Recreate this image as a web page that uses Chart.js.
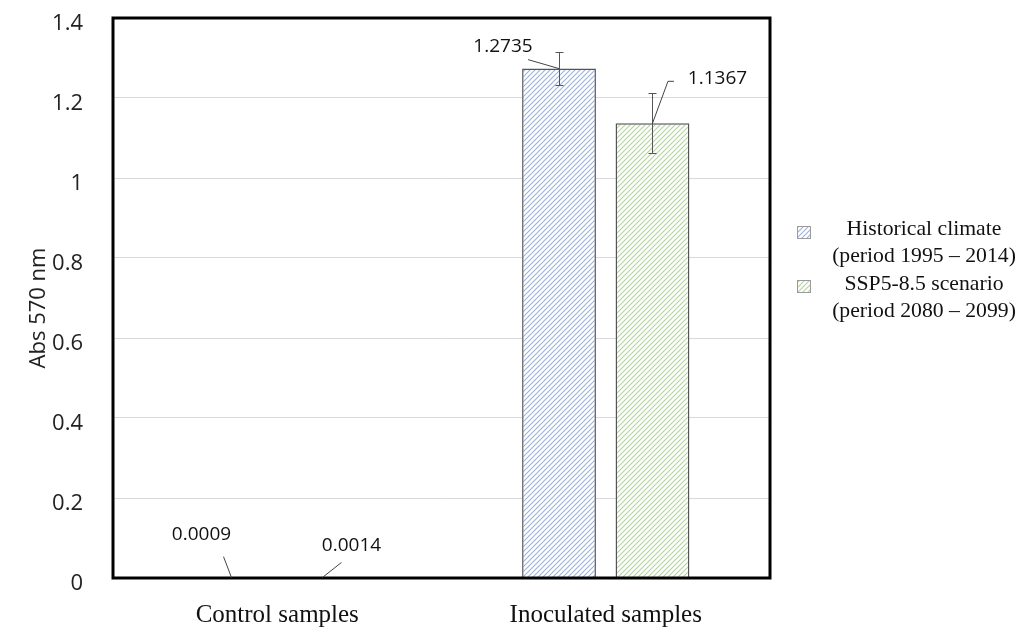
<!DOCTYPE html>
<html>
<head>
<meta charset="utf-8">
<script src="https://cdn.jsdelivr.net/npm/chart.js@4.4.1/dist/chart.umd.min.js"></script>
<style>
  html, body { margin: 0; padding: 0; background: #ffffff; }
  #wrap { width: 1022px; height: 628px; position: relative; }
</style>
</head>
<body>
<div id="wrap"><canvas id="c" width="1022" height="628"></canvas></div>
<script>
// ---- data ----
const categories = ['Control samples', 'Inoculated samples'];
const seriesNames = [['Historical climate', '(period 1995 – 2014)'], ['SSP5-8.5 scenario', '(period 2080 – 2099)']];
const historicalValues = [0.0009, 1.2735];
const ssp585Values = [0.0014, 1.1367];
const historicalErrors = [0, 0.041];
const ssp585Errors = [0, 0.075];
const historicalLabels = ['0.0009', '1.2735'];
const ssp585Labels = ['0.0014', '1.1367'];
const yTicks = [0, 0.2, 0.4, 0.6, 0.8, 1, 1.2, 1.4];
const yTitle = 'Abs 570 nm';

// ---- styles / layout (pixels) ----
const hatchColors = ['#9cb2dc', '#b3d49c'];
// label placement relative to each bar's top-centre: [dataset][index]
const labelPlacement = [
  [ {dx: -29, dy: -43, line: [[-7, -21], [1, 0]]},
    {dx: -56, dy: -22, line: [[-31, -9], [0, 0]]} ],
  [ {dx: 27.5, dy: -32, line: [[17.5, -15], [-1.5, 0]]},
    {dx: 65, dy: -45, line: [[21.5, -42], [15.5, -42], [0, 0]]} ]
];

function makeHatch(color) {
  const s = 5;
  const c = document.createElement('canvas');
  c.width = s; c.height = s;
  const g = c.getContext('2d');
  g.fillStyle = '#ffffff';
  g.fillRect(0, 0, s, s);
  g.strokeStyle = color;
  g.lineWidth = 1.1;
  g.beginPath();
  g.moveTo(0, s); g.lineTo(s, 0);
  g.moveTo(-s / 2, s / 2); g.lineTo(s / 2, -s / 2);
  g.moveTo(s / 2, s * 1.5); g.lineTo(s * 1.5, s / 2);
  g.stroke();
  return g.createPattern(c, 'repeat');
}
const ctx0 = document.getElementById('c').getContext('2d');
const patterns = hatchColors.map(makeHatch);

const errorsBySeries = [historicalErrors, ssp585Errors];
const labelsBySeries = [historicalLabels, ssp585Labels];

const decorPlugin = {
  id: 'decor',
  afterDatasetsDraw(chart) {
    const ctx = chart.ctx;
    const y = chart.scales.y;
    // error bars
    ctx.save();
    ctx.strokeStyle = '#555555';
    ctx.lineWidth = 1;
    chart.data.datasets.forEach((ds, di) => {
      const meta = chart.getDatasetMeta(di);
      meta.data.forEach((bar, i) => {
        const e = errorsBySeries[di][i];
        if (!e) return;
        const v = ds.data[i];
        const yt = y.getPixelForValue(v + e);
        const yb = y.getPixelForValue(v - e);
        const x = Math.round(bar.x) + 0.5;
        ctx.beginPath();
        ctx.moveTo(x, yt); ctx.lineTo(x, yb);
        ctx.moveTo(x - 4, Math.round(yt) + 0.5); ctx.lineTo(x + 4, Math.round(yt) + 0.5);
        ctx.moveTo(x - 4, Math.round(yb) + 0.5); ctx.lineTo(x + 4, Math.round(yb) + 0.5);
        ctx.stroke();
      });
    });
    ctx.restore();
  },
  afterDraw(chart) {
    const ctx = chart.ctx;
    const ca = chart.chartArea;
    // frame
    ctx.save();
    ctx.strokeStyle = '#000000';
    ctx.lineWidth = 3;
    ctx.strokeRect(ca.left, ca.top, ca.right - ca.left, ca.bottom - ca.top);
    ctx.restore();

    // data labels with leader lines
    ctx.save();
    ctx.font = '19px "Open Sans"';
    ctx.fillStyle = '#111111';
    ctx.textAlign = 'center';
    ctx.textBaseline = 'middle';
    ctx.strokeStyle = '#444444';
    ctx.lineWidth = 1;
    chart.data.datasets.forEach((ds, di) => {
      const meta = chart.getDatasetMeta(di);
      meta.data.forEach((bar, i) => {
        const p = labelPlacement[di][i];
        const bx = bar.x, by = bar.y;
        ctx.fillText(labelsBySeries[di][i], bx + p.dx, by + p.dy);
        ctx.beginPath();
        p.line.forEach((pt, k) => {
          if (k === 0) ctx.moveTo(bx + pt[0], by + pt[1]);
          else ctx.lineTo(bx + pt[0], by + pt[1]);
        });
        ctx.stroke();
      });
    });
    ctx.restore();

    // y-axis title
    ctx.save();
    ctx.translate(39, 308);
    ctx.rotate(-Math.PI / 2);
    ctx.font = '22px "Open Sans"';
    ctx.fillStyle = '#222222';
    ctx.textAlign = 'center';
    ctx.textBaseline = 'middle';
    ctx.fillText(yTitle, 0, 0);
    ctx.restore();

    // legend
    ctx.save();
    const patchX = 797, patchW = 14, patchH = 13;
    const patchY = [226, 280];
    const baselines = [[235, 262], [290, 317]];
    ctx.font = '21.7px "Liberation Serif"';
    ctx.textAlign = 'center';
    ctx.textBaseline = 'alphabetic';
    chart.data.datasets.forEach((ds, di) => {
      ctx.fillStyle = patterns[di];
      ctx.fillRect(patchX, patchY[di], patchW, patchH);
      ctx.strokeStyle = '#9a9a9a';
      ctx.lineWidth = 1;
      ctx.strokeRect(patchX + 0.5, patchY[di] + 0.5, patchW - 1, patchH - 1);
      ctx.fillStyle = '#111111';
      seriesNames[di].forEach((line, li) => {
        ctx.fillText(line, 924, baselines[di][li]);
      });
    });
    ctx.restore();
  }
};

new Chart(ctx0, {
  type: 'bar',
  data: {
    labels: categories,
    datasets: [
      { label: seriesNames[0].join(' '), data: historicalValues, backgroundColor: patterns[0],
        borderColor: '#555555', borderWidth: 1.5 },
      { label: seriesNames[1].join(' '), data: ssp585Values, backgroundColor: patterns[1],
        borderColor: '#555555', borderWidth: 1.5 }
    ]
  },
  options: {
    responsive: false,
    animation: false,
    devicePixelRatio: 1,
    layout: { padding: { left: 0, top: 18, right: 252, bottom: 0 } },
    datasets: { bar: { categoryPercentage: 0.569, barPercentage: 0.79 } },
    plugins: { legend: { display: false }, tooltip: { enabled: false } },
    scales: {
      x: {
        grid: { display: false, drawTicks: false },
        border: { display: false },
        ticks: { font: { family: '"Liberation Serif"', size: 25 }, color: '#111111', padding: 22, maxRotation: 0 },
        afterFit(s) { s.height = 50; s.paddingLeft = 0; s.paddingRight = 0; }
      },
      y: {
        min: 0, max: 1.4,
        afterBuildTicks(s) { s.ticks = yTicks.map(v => ({ value: v })); },
        grid: { color: '#d9d9d9', lineWidth: 1, drawTicks: false },
        border: { display: false },
        ticks: {
          font: { family: '"Open Sans"', size: 22 }, color: '#222222', padding: 30, labelOffset: 6,
          callback: v => String(Math.round(v * 10) / 10)
        },
        afterFit(s) { s.width = 113; s.paddingTop = 0; s.paddingBottom = 0; }
      }
    }
  },
  plugins: [decorPlugin]
});
</script>
</body>
</html>
